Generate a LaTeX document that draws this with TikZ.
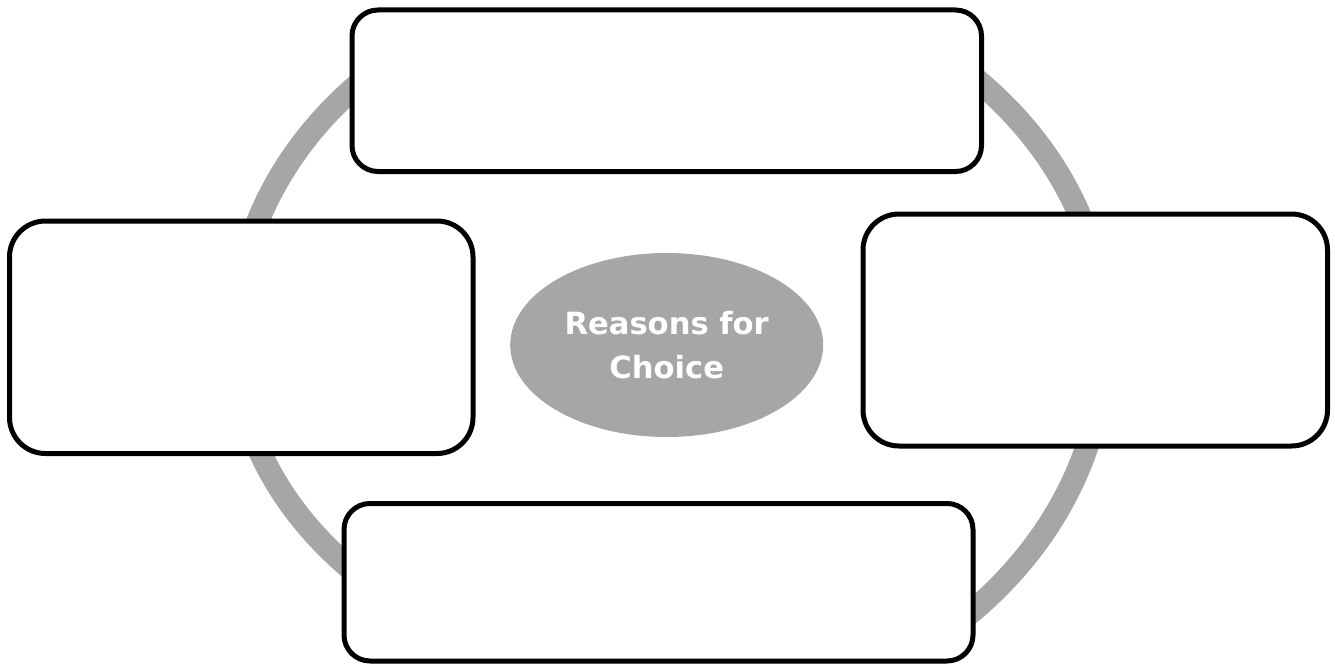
\documentclass[tikz,border=0pt]{standalone}
\usepackage{fontspec}
\newfontfamily\labelfont{DejaVu Sans}
\usetikzlibrary{shapes.geometric}
\definecolor{ringgray}{HTML}{A6A6A6}
\begin{document}
\begin{tikzpicture}[x=1pt,y=-1pt,
  ringline/.style={draw=ringgray, line width=23pt},
  card/.style={draw=black, line width=5pt, fill=white, rectangle, inner sep=0pt, outer sep=0pt},
  hub/.style={ellipse, fill=ringgray, draw=none, minimum width=313pt, minimum height=184pt, inner sep=0pt, text=white, font=\labelfont\bfseries\fontsize{30.6}{44.3}\selectfont, align=center}]
\useasboundingbox (0,0) rectangle (1335,666);
\begin{scope}
  \clip (0,14) rectangle (1335,656);
  \draw[ringline] (1105,338) arc[start angle=0,end angle=90,x radius=435pt,y radius=364pt]
                             arc[start angle=90,end angle=180,x radius=435pt,y radius=364pt];
  \draw[ringline] (235,338) arc[start angle=180,end angle=270,x radius=435pt,y radius=340pt];
  \draw[ringline] (670,718) arc[start angle=270,end angle=360,x radius=435pt,y radius=380pt];
\end{scope}
\node[card, rounded corners=26pt, minimum width=629.5pt, minimum height=161.5pt] (topbox) at (666.75,90.75) {};
\node[card, rounded corners=36pt, minimum width=463.5pt, minimum height=232.5pt] (leftbox) at (241.25,337.25) {};
\node[card, rounded corners=36pt, minimum width=464.5pt, minimum height=232pt] (rightbox) at (1095.25,330) {};
\node[card, rounded corners=26pt, minimum width=629pt, minimum height=157.5pt] (bottombox) at (658.5,582.25) {};
\node[hub] (hub) at (666.7,345) {Reasons for\\Choice};
\end{tikzpicture}
\end{document}
